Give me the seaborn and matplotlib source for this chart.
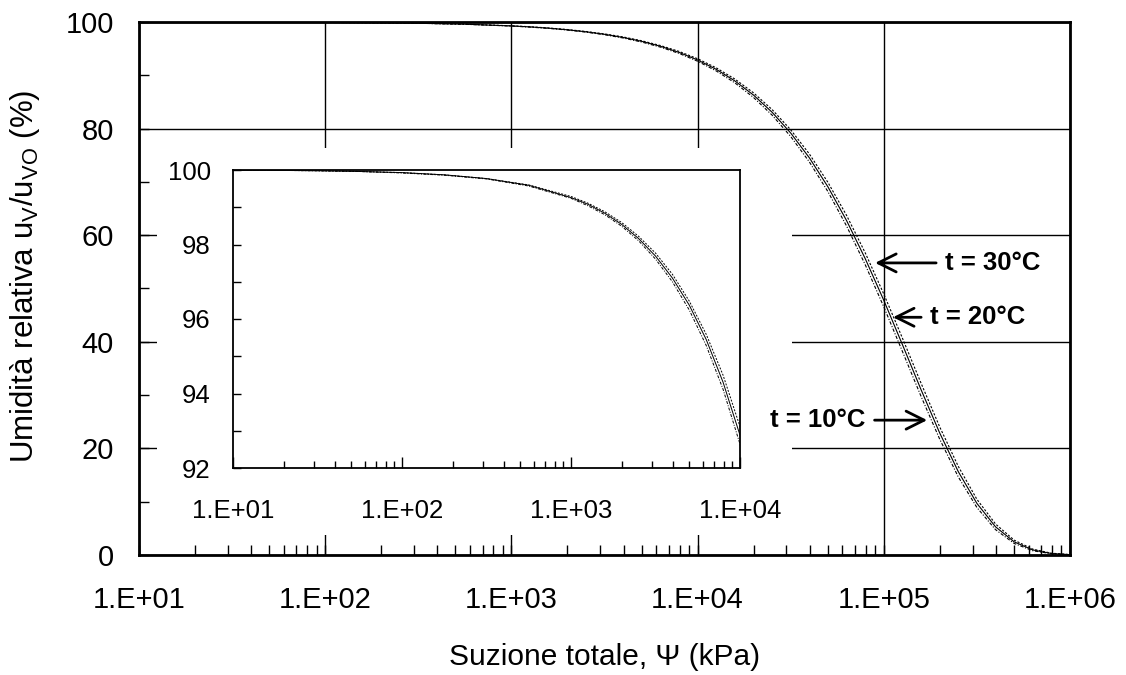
import numpy as np
import pandas as pd
import matplotlib
matplotlib.use("Agg")
import matplotlib.pyplot as plt
from matplotlib.patches import Rectangle
from matplotlib.ticker import LogLocator, FixedLocator, FuncFormatter, NullFormatter, MultipleLocator
import seaborn as sns

# Total suction (kPa)
psi = [10, 17.8, 31.6, 56.2, 100, 178, 316, 562, 1000, 1259, 1585, 1995, 2512, 3162,
       3981, 5012, 6310, 7943, 10000, 12589, 15849, 19953, 25119, 31623, 39811, 50119,
       63096, 79433, 100000, 125893, 158489, 199526, 251189, 316228, 398107, 501187,
       630957, 794328, 1000000]

# Relative humidity (%) at 10, 20 and 30 °C
rh_10 = [99.99, 99.99, 99.98, 99.96, 99.92, 99.86, 99.76, 99.57, 99.24, 99.04, 98.80,
         98.49, 98.10, 97.61, 97.00, 96.24, 95.29, 94.11, 92.64, 90.82, 88.59, 85.85,
         82.53, 78.52, 73.76, 68.17, 61.73, 54.48, 46.55, 38.19, 29.77, 21.75, 14.65,
         8.91, 4.76, 2.17, 0.80, 0.23, 0.05]
rh_20 = [99.99, 99.99, 99.98, 99.96, 99.93, 99.87, 99.77, 99.59, 99.26, 99.08, 98.84,
         98.54, 98.16, 97.69, 97.10, 96.37, 95.45, 94.30, 92.88, 91.12, 88.95, 86.30,
         83.07, 79.17, 74.53, 69.07, 62.75, 55.62, 47.78, 39.47, 31.02, 22.91, 15.64,
         9.68, 5.29, 2.47, 0.95, 0.28, 0.06]
rh_30 = [99.99, 99.99, 99.98, 99.96, 99.93, 99.87, 99.77, 99.60, 99.29, 99.11, 98.88,
         98.59, 98.22, 97.77, 97.20, 96.48, 95.59, 94.49, 93.11, 91.40, 89.30, 86.72,
         83.58, 79.78, 75.25, 69.91, 63.72, 56.71, 48.96, 40.69, 32.24, 24.05, 16.63,
         10.45, 5.82, 2.79, 1.10, 0.34, 0.08]

temps = ["t = 10°C", "t = 20°C", "t = 30°C"]
main_xticks = [1e1, 1e2, 1e3, 1e4, 1e5, 1e6]
inset_xticks = [1e1, 1e2, 1e3, 1e4]

sns.set_style("ticks")
plt.rcParams["font.family"] = ["Liberation Sans", "DejaVu Sans"]
plt.rcParams["mathtext.fontset"] = "custom"
plt.rcParams["mathtext.rm"] = "Liberation Sans"
plt.rcParams["text.color"] = "black"

df = pd.DataFrame({
    "psi": psi * 3,
    "rh": rh_10 + rh_20 + rh_30,
    "T": [temps[0]] * len(psi) + [temps[1]] * len(psi) + [temps[2]] * len(psi),
})

line_styles = {temps[0]: (0, (3, 1.5, 1, 1.5)), temps[1]: "-", temps[2]: (0, (2, 1.5))}


def draw_curves(ax, lw):
    for t in temps:
        sub = df[df["T"] == t]
        sns.lineplot(data=sub, x="psi", y="rh", ax=ax, color="black", lw=lw,
                     linestyle=line_styles[t], legend=False, zorder=3,
                     estimator=None, sort=False)


def exp_label(v, pos=None):
    return f"1.E+{int(round(np.log10(v))):02d}"


fig = plt.figure(figsize=(11.26, 6.75), dpi=100)
ax = fig.add_axes([139 / 1126, 1 - 555 / 675, 931 / 1126, 533 / 675])
draw_curves(ax, 0.8)

ax.set_xscale("log")
ax.set_xlim(1e1, 1e6)
ax.set_ylim(0, 100)
ax.xaxis.set_major_locator(FixedLocator(main_xticks))
ax.xaxis.set_major_formatter(FuncFormatter(exp_label))
ax.xaxis.set_minor_locator(LogLocator(base=10, subs=np.arange(2, 10), numticks=20))
ax.xaxis.set_minor_formatter(NullFormatter())
ax.yaxis.set_major_locator(MultipleLocator(20))
ax.yaxis.set_minor_locator(MultipleLocator(10))
ax.set_axisbelow(True)
ax.grid(True, which="major", color="black", lw=1.0)
for s in ax.spines.values():
    s.set_linewidth(2.0)
    s.set_color("black")
ax.tick_params(which="both", direction="in", color="black", width=1.0,
               labelsize=21, labelcolor="black")
ax.tick_params(axis="x", which="both", length=7, pad=22)
ax.tick_params(axis="y", which="both", length=7, pad=18)

ax.set_xlabel("Suzione totale, Ψ (kPa)", fontsize=21.5, color="black")
ax.xaxis.set_label_coords(0.5, (555 - 643) / 533)
ax.set_ylabel(r"Umidità relativa u$\mathregular{_V}$/u$\mathregular{_{VO}}$ (%)",
              fontsize=22.5, color="black")
ax.yaxis.set_label_coords(-0.104, 0.522)

# White panel behind the inset, hiding the grid underneath
ax.add_patch(Rectangle((157 / 1126, 1 - 535 / 675), 635 / 1126, 387 / 675,
                       transform=fig.transFigure, facecolor="white",
                       edgecolor="none", zorder=1, clip_on=False))

# Arrow labels for each temperature
arrow_kw = dict(arrowstyle="->,head_length=0.7,head_width=0.35", color="black",
                lw=2.0, shrinkA=4, shrinkB=0)
ax.annotate(temps[2], xy=(8.98e4, 54.8), xytext=(2.13e5, 54.8), fontsize=18.5,
            fontweight="bold", color="black", ha="left", va="center",
            arrowprops=arrow_kw, zorder=5)
ax.annotate(temps[1], xy=(1.12e5, 44.6), xytext=(1.77e5, 44.6), fontsize=18.5,
            fontweight="bold", color="black", ha="left", va="center",
            arrowprops=arrow_kw, zorder=5)
ax.annotate(temps[0], xy=(1.71e5, 25.3), xytext=(8.0e4, 25.3), fontsize=18.5,
            fontweight="bold", color="black", ha="right", va="center",
            arrowprops=arrow_kw, zorder=5)

# Inset: detail of the 92-100 % range
ins = fig.add_axes([233 / 1126, 1 - 468 / 675, 507 / 1126, 298 / 675])
ins.set_facecolor("white")
draw_curves(ins, 0.7)
ins.set_xscale("log")
ins.set_xlim(1e1, 1e4)
ins.set_ylim(92, 100)
ins.xaxis.set_major_locator(FixedLocator(inset_xticks))
ins.xaxis.set_major_formatter(FuncFormatter(exp_label))
ins.xaxis.set_minor_locator(LogLocator(base=10, subs=np.arange(2, 10), numticks=20))
ins.xaxis.set_minor_formatter(NullFormatter())
ins.yaxis.set_major_locator(MultipleLocator(2))
ins.yaxis.set_minor_locator(MultipleLocator(1))
for s in ins.spines.values():
    s.set_linewidth(1.3)
    s.set_color("black")
ins.tick_params(which="both", direction="in", color="black", width=1.0,
                labelsize=18.5, labelcolor="black")
ins.tick_params(axis="x", which="major", length=8, pad=22)
ins.tick_params(axis="x", which="minor", length=5)
ins.tick_params(axis="y", which="both", length=6, pad=16)
ins.set_xlabel("")
ins.set_ylabel("")

fig.savefig("out.png", dpi=100, facecolor="white")
